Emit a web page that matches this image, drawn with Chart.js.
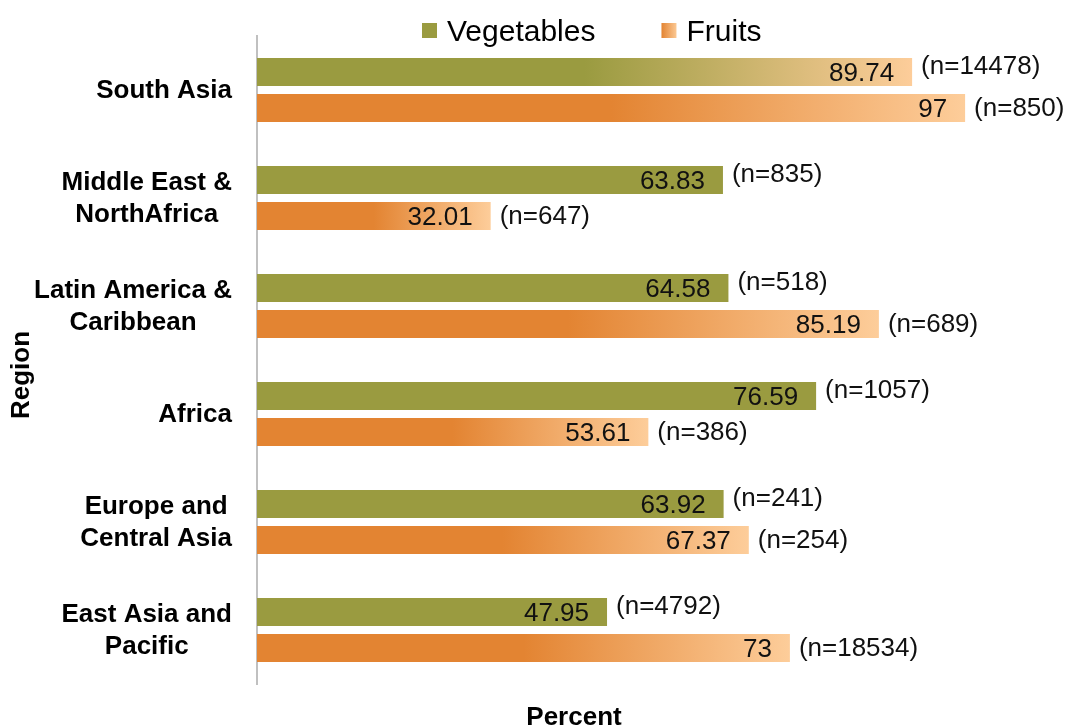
<!DOCTYPE html>
<html lang="en">
<head>
  <meta charset="UTF-8" />
  <title>Vegetables and fruits by region</title>
  <script src="https://cdn.jsdelivr.net/npm/chart.js"></script>
  <style>
    html, body { margin: 0; padding: 0; background: #fff; }
    #wrap { width: 1071px; height: 728px; }
  </style>
</head>
<body>
  <div id="wrap"><canvas id="myChart" width="1071" height="728"></canvas></div>
  <script>
    // Datos del gráfico
    const regions = [
      ["South Asia"],
      ["Middle East &", "NorthAfrica"],
      ["Latin America &", "Caribbean"],
      ["Africa"],
      ["Europe and ", "Central Asia"],
      ["East Asia and", "Pacific"]
    ];
    const vegetables = [89.74, 63.83, 64.58, 76.59, 63.92, 47.95];
    const fruits = [97, 32.01, 85.19, 53.61, 67.37, 73];
    const nVegetables = [14478, 835, 518, 1057, 241, 4792];
    const nFruits = [850, 647, 689, 386, 254, 18534];
    const seriesNames = ["Vegetables", "Fruits"];
    const xTitle = "Percent";
    const yTitle = "Region";

    const FONT = "'Liberation Sans', Arial, sans-serif";
    const OLIVE = "rgb(154,155,64)";
    const ORANGE = "rgb(227,132,50)";
    const PEACH = "rgb(253,205,154)";

    // relleno con degradado al final de cada barra
    function barFill(context, base, fade) {
      const chart = context.chart;
      if (!chart.chartArea || !fade) return base;
      const xs = chart.scales.x;
      const x0 = xs.getPixelForValue(0);
      const x1 = xs.getPixelForValue(context.raw);
      const g = chart.ctx.createLinearGradient(x0, 0, x1, 0);
      g.addColorStop(0, base);
      g.addColorStop(0.5, base);
      g.addColorStop(1, PEACH);
      return g;
    }

    // etiquetas, leyenda y títulos
    const decorations = {
      id: "decorations",
      afterDatasetsDraw(chart) {
        const ctx = chart.ctx;
        ctx.save();
        ctx.font = "26px " + FONT;
        ctx.textBaseline = "middle";
        const nLists = [nVegetables, nFruits];
        const yShift = [-5, 1];
        chart.data.datasets.forEach((ds, di) => {
          chart.getDatasetMeta(di).data.forEach((bar, i) => {
            ctx.fillStyle = "#111";
            ctx.textAlign = "right";
            ctx.fillText(String(ds.data[i]), bar.x - 18, bar.y + 2);
            ctx.textAlign = "left";
            ctx.fillText("(n=" + nLists[di][i] + ")", bar.x + 9, bar.y + yShift[di]);
          });
        });

        // etiquetas de categoría: bloque alineado a la derecha, líneas centradas
        const ys = chart.scales.y;
        ctx.font = "bold 26px " + FONT;
        ctx.fillStyle = "#000";
        ctx.textAlign = "center";
        const right = chart.chartArea.left - 25;
        const lh = 31.5;
        regions.forEach((lines, i) => {
          const cy = ys.getPixelForTick(i);
          const w = Math.max(...lines.map(l => ctx.measureText(l.trim()).width));
          const cx = right - w / 2;
          lines.forEach((l, k) => {
            ctx.fillText(l.trim(), cx, cy + (k - (lines.length - 1) / 2) * lh + 1);
          });
        });

        // títulos de ejes
        ctx.font = "bold 26px " + FONT;
        ctx.fillText(xTitle, 574, 718);
        ctx.save();
        ctx.translate(22, 375);
        ctx.rotate(-Math.PI / 2);
        ctx.fillText(yTitle, 0, 0);
        ctx.restore();

        // leyenda
        ctx.font = "30px " + FONT;
        ctx.textAlign = "left";
        let x = 422;
        const ly = 31;
        chart.data.datasets.forEach((ds, di) => {
          if (di === 0) {
            ctx.fillStyle = OLIVE;
          } else {
            const g = ctx.createLinearGradient(x, 0, x + 16, 0);
            g.addColorStop(0, ORANGE);
            g.addColorStop(1, PEACH);
            ctx.fillStyle = g;
          }
          ctx.fillRect(x, ly - 8, 15, 15);
          ctx.fillStyle = "#000";
          ctx.fillText(ds.label, x + 25, ly + 2);
          x += 25 + ctx.measureText(ds.label).width + 66;
        });
        ctx.restore();
      }
    };

    const chart = new Chart(document.getElementById("myChart"), {
      type: "bar",
      data: {
        labels: regions.map(r => r.join(" ")),
        datasets: [
          {
            label: seriesNames[0],
            data: vegetables,
            backgroundColor: (c) => barFill(c, OLIVE, c.dataIndex === 0),
            categoryPercentage: 0.667,
            barPercentage: 0.78
          },
          {
            label: seriesNames[1],
            data: fruits,
            backgroundColor: (c) => barFill(c, ORANGE, true),
            categoryPercentage: 0.667,
            barPercentage: 0.78
          }
        ]
      },
      options: {
        indexAxis: "y",
        responsive: false,
        animation: false,
        devicePixelRatio: 1,
        layout: { padding: { top: 36, bottom: 44, left: 0, right: 84 } },
        plugins: {
          legend: { display: false },
          tooltip: { enabled: false }
        },
        scales: {
          x: {
            display: false,
            min: 0,
            max: 100
          },
          y: {
            afterFit(scale) { scale.width = 257; },
            ticks: { display: false },
            grid: { display: false, drawTicks: false },
            border: { display: true, color: "#c0c0c0", width: 2 }
          }
        }
      },
      plugins: [decorations]
    });
  </script>
</body>
</html>
